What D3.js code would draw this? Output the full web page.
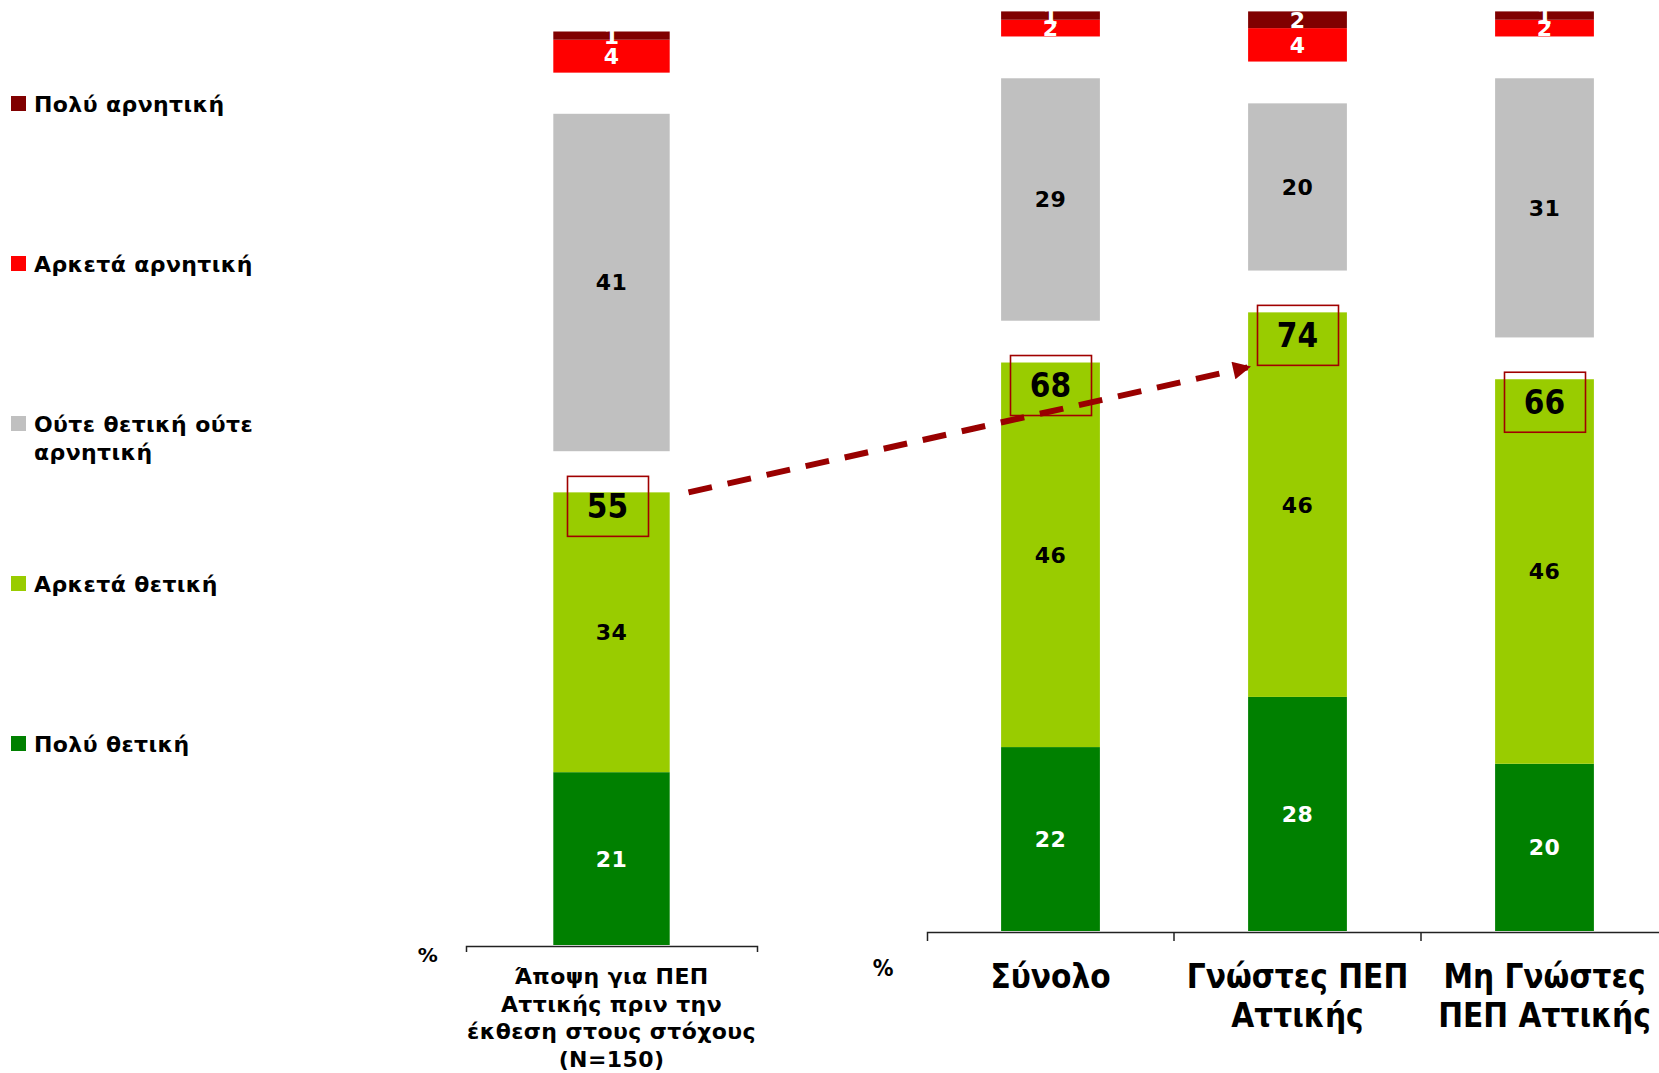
<!DOCTYPE html>
<meta charset="utf-8">
<style>
body { margin: 0; background: #fff; }
.lbl { font-family: "DejaVu Sans", Verdana, sans-serif; font-weight: bold; letter-spacing: 0.4px; }
.cond { font-family: "DejaVu Sans Condensed", "DejaVu Sans", sans-serif; font-stretch: condensed; font-weight: bold; }
.axis path, .axis line { fill: none; stroke: #222; stroke-width: 1.5px; }
</style>
<div id="chart"></div>
<script src="https://d3js.org/d3.v7.min.js"></script>
<script>
var width = 1659, height = 1073;

// data
var leftCategories = ["Άποψη για ΠΕΠ|Αττικής πριν την|έκθεση στους στόχους|(N=150)"];
var rightCategories = ["Σύνολο", "Γνώστες ΠΕΠ|Αττικής", "Μη Γνώστες|ΠΕΠ Αττικής"];
var seriesNames = ["Πολύ θετική", "Αρκετά θετική", "Ούτε θετική ούτε αρνητική", "Αρκετά αρνητική", "Πολύ αρνητική"];
var veryPositive   = [21, 22, 28, 20];
var fairlyPositive = [34, 46, 46, 46];
var neutral        = [41, 29, 20, 31];
var fairlyNegative = [4, 2, 4, 2];
var veryNegative   = [1, 1, 2, 1];
var positiveTotals = [55, 68, 74, 66];

var GAP = 5; // blank space between the blocks of a bar, in % units
var keys = ["vp", "fp", "g1", "nt", "g2", "fn", "vn"];
var colors = { vp: "#008000", fp: "#99cc00", nt: "#c0c0c0", fn: "#ff0000", vn: "#800000" };
var textColors = { vp: "#fff", fp: "#000", nt: "#000", fn: "#fff", vn: "#fff" };

var rows = veryPositive.map(function(v, i) {
  return { vp: v, fp: fairlyPositive[i], g1: GAP, nt: neutral[i], g2: GAP,
           fn: fairlyNegative[i], vn: veryNegative[i], total: positiveTotals[i] };
});

var svg = d3.select("#chart").append("svg")
  .attr("width", width)
  .attr("height", height);

var stack = d3.stack().keys(keys);

function drawPanel(opt) {
  var data = opt.rows;
  var x = d3.scaleBand().domain(opt.categories).range(opt.xRange)
    .paddingInner(0.6).paddingOuter(0.3);
  var y = d3.scaleLinear().domain([0, opt.yMax]).range(opt.yRange);
  var series = stack(data).filter(function(s) { return s.key.charAt(0) != "g"; });

  var g = svg.append("g");
  var layer = g.selectAll(".layer")
    .data(series)
    .enter().append("g")
    .attr("class", "layer");

  layer.selectAll("rect")
    .data(function(s) { return s.map(function(d, i) { return { key: s.key, d: d, cat: opt.categories[i] }; }); })
    .enter().append("rect")
    .attr("x", function(e) { return x(e.cat); })
    .attr("width", x.bandwidth())
    .attr("y", function(e) { return y(e.d[1]); })
    .attr("height", function(e) { return y(e.d[0]) - y(e.d[1]); })
    .style("fill", function(e) { return colors[e.key]; });

  layer.selectAll("text")
    .data(function(s) { return s.map(function(d, i) { return { key: s.key, d: d, cat: opt.categories[i] }; }); })
    .enter().append("text")
    .attr("class", "lbl")
    .attr("x", function(e) { return x(e.cat) + x.bandwidth() / 2; })
    .attr("y", function(e) { return y((e.d[0] + e.d[1]) / 2); })
    .attr("dy", "0.36em")
    .attr("text-anchor", "middle")
    .style("font-size", "22px")
    .style("fill", function(e) { return textColors[e.key]; })
    .text(function(e) { return e.d[1] - e.d[0]; });

  // boxed totals of the positive answers
  var tot = g.selectAll(".tot")
    .data(data)
    .enter().append("g")
    .attr("class", "tot")
    .attr("transform", function(d, i) {
      return "translate(" + (x(opt.categories[i]) + x.bandwidth() / 2 + opt.boxShift) + "," + (y(d.vp + d.fp) + opt.totalOffset) + ")";
    });
  tot.append("rect")
    .attr("x", -40).attr("y", -30)
    .attr("width", 81).attr("height", 60)
    .style("fill", "none")
    .style("stroke", "#a00000")
    .style("stroke-width", 1.6);
  tot.append("text")
    .attr("class", "cond")
    .attr("text-anchor", "middle")
    .attr("dy", "0.36em")
    .style("font-size", "33px")
    .text(function(d) { return d.total; });

  // axis
  var ax = g.append("g")
    .attr("class", "axis")
    .attr("transform", "translate(0," + (y(0) + 1) + ")")
    .call(d3.axisBottom(x).tickSizeInner(0).tickSizeOuter(opt.tickLen).tickPadding(0));
  ax.selectAll(".tick line").remove();
  // boundary ticks between categories
  ax.selectAll(".sep")
    .data(opt.categories.slice(1))
    .enter().append("line")
    .attr("x1", function(c) { return x(c) - x.step() * 0.3; })
    .attr("x2", function(c) { return x(c) - x.step() * 0.3; })
    .attr("y1", 0).attr("y2", opt.tickLen);

  ax.selectAll(".tick text").each(function(c) {
    var t = d3.select(this).text(null)
      .attr("class", opt.labelClass)
      .attr("y", opt.labelY)
      .attr("dy", null)
      .style("font-size", opt.labelSize)
      .style("fill", "#000");
    c.split("|").forEach(function(line, j) {
      t.append("tspan").attr("x", 0).attr("dy", j === 0 ? 0 : opt.lineH).text(line);
    });
  });

  g.append("text")
    .attr("class", opt.labelClass)
    .attr("x", opt.pct[0]).attr("y", opt.pct[1])
    .attr("text-anchor", "middle")
    .attr("dy", "0.36em")
    .style("font-size", opt.pctSize)
    .text("%");

  return { x: x, y: y };
}

var left = drawPanel({
  rows: rows.slice(0, 1), categories: leftCategories,
  xRange: [466, 757], yMax: 111, yRange: [945, 31.5],
  totalOffset: 14, boxShift: -4, tickLen: 6,
  labelClass: "lbl", labelY: 38, labelSize: "22px", lineH: 27.5,
  pct: [428, 955], pctSize: "20px"
});

var right = drawPanel({
  rows: rows.slice(1), categories: rightCategories,
  xRange: [927, 1668], yMax: 110, yRange: [931, 11.4],
  totalOffset: 23, boxShift: 0, tickLen: 9,
  labelClass: "cond", labelY: 56, labelSize: "33px", lineH: 39,
  pct: [883, 968], pctSize: "23px"
});

// dashed arrow from the first total to the "Γνώστες" total
svg.append("defs").append("marker")
  .attr("id", "head")
  .attr("viewBox", "0 0 10 10")
  .attr("refX", 8).attr("refY", 5)
  .attr("markerWidth", 3.4).attr("markerHeight", 3)
  .attr("orient", "auto")
  .append("path")
  .attr("d", "M0,0L10,5L0,10Z")
  .style("fill", "#990000");

var lx = left.x(leftCategories[0]) + left.x.bandwidth() / 2 + 41 + 36;
var ly = left.y(rows[0].vp + rows[0].fp);
var rx = right.x(rightCategories[1]) + right.x.bandwidth() / 2 - 40 - 10;
var ry = right.y(rows[2].vp + rows[2].fp) + 23 + 32;

svg.append("line")
  .attr("x1", lx).attr("y1", ly)
  .attr("x2", rx).attr("y2", ry)
  .style("stroke", "#990000")
  .style("stroke-width", 6)
  .style("stroke-dasharray", "24,16")
  .attr("marker-end", "url(#head)");

// legend, top item is the most negative answer
var legend = svg.append("g")
  .selectAll("g")
  .data(seriesNames.slice().reverse())
  .enter().append("g")
  .attr("transform", function(d, i) { return "translate(11," + (104 + i * 160) + ")"; });

legend.append("rect")
  .attr("y", -8)
  .attr("width", 15).attr("height", 15)
  .style("fill", function(d, i) { return colors[["vn", "fn", "nt", "fp", "vp"][i]]; });

legend.append("text")
  .attr("class", "lbl")
  .attr("x", 23)
  .attr("dy", "0.36em")
  .style("font-size", "22px")
  .each(function(d) {
    var t = d3.select(this);
    var parts = d == "Ούτε θετική ούτε αρνητική" ? ["Ούτε θετική ούτε", "αρνητική"] : [d];
    parts.forEach(function(p, j) {
      t.append("tspan").attr("x", 23).attr("dy", j === 0 ? "0.36em" : 28).text(p);
    });
  });
</script>
